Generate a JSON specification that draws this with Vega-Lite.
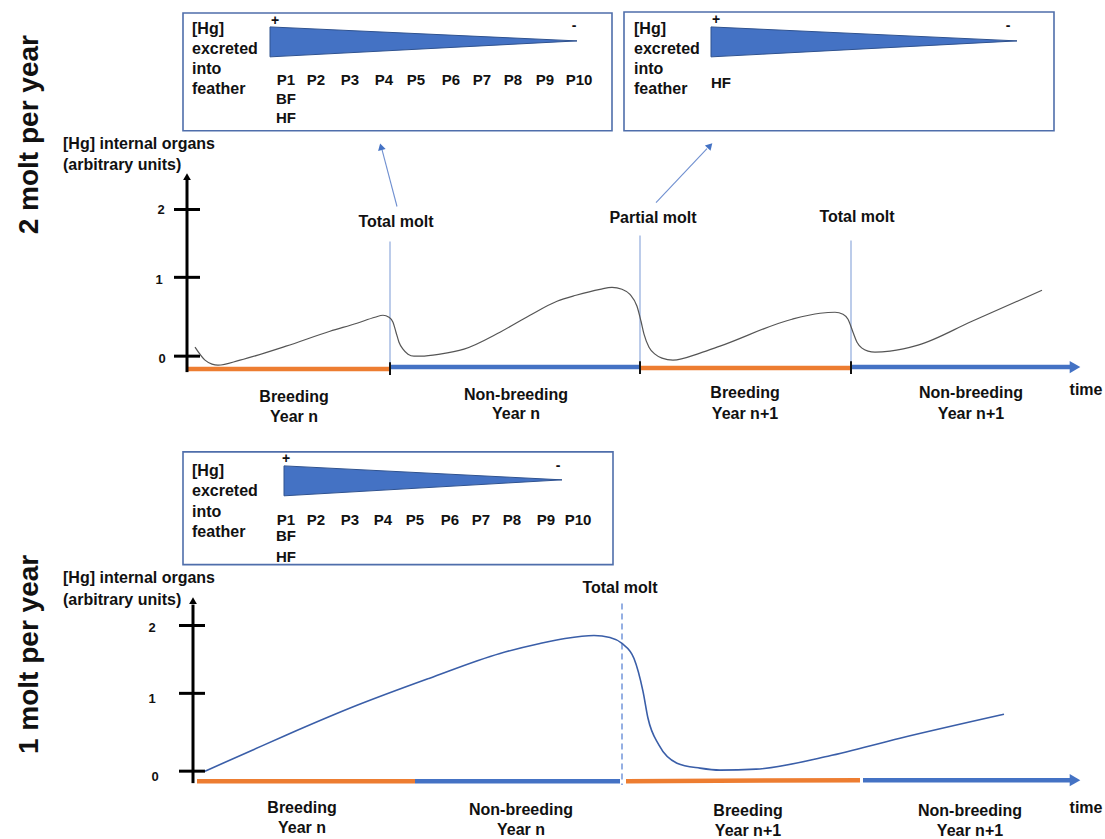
{
  "$schema": "https://vega.github.io/schema/vega-lite/v6.json",
  "width": 1105,
  "height": 839,
  "padding": 0,
  "autosize": {"type": "fit", "contains": "padding"},
  "background": "white",
  "config": {"view": {"stroke": null}, "text": {"font": "Liberation Sans", "fontWeight": "bold", "color": "#111111"}},
  "datasets": {
    "boxes": [
      {"x": 183, "x2": 612, "y": 13, "y2": 131},
      {"x": 624, "x2": 1054, "y": 12, "y2": 131},
      {"x": 183, "x2": 613, "y": 453, "y2": 566}
    ],
    "wedges": [
      {"id": 1, "x": 270, "y": 27, "y2": 57},
      {"id": 1, "x": 577, "y": 41, "y2": 41},
      {"id": 2, "x": 711, "y": 27, "y2": 57},
      {"id": 2, "x": 1017, "y": 41, "y2": 41},
      {"id": 3, "x": 284, "y": 467, "y2": 497},
      {"id": 3, "x": 562, "y": 481, "y2": 481}
    ],
    "curve1": [
      {"x": 195, "y": 348}, {"x": 205, "y": 361}, {"x": 212, "y": 365}, {"x": 218, "y": 366},
      {"x": 240, "y": 361}, {"x": 286, "y": 347}, {"x": 330, "y": 332}, {"x": 357, "y": 324},
      {"x": 375, "y": 318}, {"x": 383, "y": 316}, {"x": 389, "y": 318}, {"x": 393, "y": 323},
      {"x": 396, "y": 333}, {"x": 399, "y": 343}, {"x": 403, "y": 350}, {"x": 408, "y": 355},
      {"x": 414, "y": 357}, {"x": 421, "y": 357}, {"x": 440, "y": 355}, {"x": 464, "y": 350},
      {"x": 500, "y": 333}, {"x": 530, "y": 316}, {"x": 557, "y": 302}, {"x": 576, "y": 296},
      {"x": 600, "y": 290}, {"x": 612, "y": 288}, {"x": 622, "y": 290}, {"x": 630, "y": 295},
      {"x": 637, "y": 307}, {"x": 641, "y": 322}, {"x": 644, "y": 335}, {"x": 649, "y": 348},
      {"x": 655, "y": 355}, {"x": 662, "y": 359}, {"x": 673, "y": 361}, {"x": 700, "y": 354},
      {"x": 720, "y": 347}, {"x": 792, "y": 320}, {"x": 820, "y": 314}, {"x": 835, "y": 313},
      {"x": 843, "y": 315}, {"x": 848, "y": 320}, {"x": 853, "y": 333}, {"x": 857, "y": 343},
      {"x": 862, "y": 349}, {"x": 868, "y": 352}, {"x": 875, "y": 353}, {"x": 890, "y": 352},
      {"x": 918, "y": 346}, {"x": 972, "y": 322}, {"x": 1042, "y": 291}
    ],
    "curve2": [
      {"x": 205, "y": 773}, {"x": 250, "y": 753}, {"x": 286, "y": 737}, {"x": 357, "y": 707},
      {"x": 429, "y": 680}, {"x": 500, "y": 655}, {"x": 540, "y": 645}, {"x": 565, "y": 640},
      {"x": 594, "y": 637}, {"x": 610, "y": 639}, {"x": 622, "y": 645}, {"x": 634, "y": 660},
      {"x": 643, "y": 693}, {"x": 648, "y": 720}, {"x": 659, "y": 747}, {"x": 677, "y": 765},
      {"x": 700, "y": 770}, {"x": 720, "y": 772}, {"x": 756, "y": 771}, {"x": 828, "y": 758},
      {"x": 900, "y": 740}, {"x": 1004, "y": 716}
    ],
    "segs": [
      {"kind": "axis", "x": 187, "y": 373, "x2": 187, "y2": 180},
      {"kind": "tick", "x": 174, "y": 210, "x2": 200, "y2": 210},
      {"kind": "tick", "x": 174, "y": 278, "x2": 200, "y2": 278},
      {"kind": "tick", "x": 174, "y": 357, "x2": 200, "y2": 357},
      {"kind": "orange", "x": 187, "y": 370, "x2": 390, "y2": 370},
      {"kind": "orange", "x": 640, "y": 369, "x2": 851, "y2": 369},
      {"kind": "blue", "x": 390, "y": 368, "x2": 640, "y2": 368},
      {"kind": "blue", "x": 851, "y": 368, "x2": 1072, "y2": 368},
      {"kind": "sep", "x": 390, "y": 363, "x2": 390, "y2": 376},
      {"kind": "sep", "x": 640, "y": 362, "x2": 640, "y2": 375},
      {"kind": "sep", "x": 851, "y": 362, "x2": 851, "y2": 375},
      {"kind": "molt", "x": 390, "y": 242, "x2": 390, "y2": 366},
      {"kind": "molt", "x": 640, "y": 236, "x2": 640, "y2": 366},
      {"kind": "molt", "x": 851, "y": 241, "x2": 851, "y2": 366},
      {"kind": "arrow", "x": 397, "y": 207, "x2": 382, "y2": 150},
      {"kind": "arrow", "x": 656, "y": 203, "x2": 707, "y2": 149},
      {"kind": "axis", "x": 193, "y": 785, "x2": 193, "y2": 606},
      {"kind": "tick", "x": 179, "y": 627, "x2": 205, "y2": 627},
      {"kind": "tick", "x": 179, "y": 695, "x2": 205, "y2": 695},
      {"kind": "tick", "x": 179, "y": 773, "x2": 205, "y2": 773},
      {"kind": "orange", "x": 197, "y": 783, "x2": 415, "y2": 783},
      {"kind": "orange", "x": 626, "y": 783, "x2": 860, "y2": 782},
      {"kind": "blue", "x": 415, "y": 783, "x2": 620, "y2": 783},
      {"kind": "blue", "x": 863, "y": 782, "x2": 1072, "y2": 782},
      {"kind": "dash", "x": 622, "y": 605, "x2": 622, "y2": 787}
    ],
    "heads": [
      {"kind": "time", "x": 1075, "y": 368},
      {"kind": "time", "x": 1075, "y": 782},
      {"kind": "yaxis", "x": 187, "y": 177},
      {"kind": "yaxis", "x": 193, "y": 602},
      {"kind": "arrow1", "x": 381, "y": 147},
      {"kind": "arrow2", "x": 710, "y": 146}
    ],
    "texts": [
      {"kind": "side", "x": 30, "y": 135, "text": "2 molt per year"},
      {"kind": "side", "x": 30, "y": 656, "text": "1 molt per year"},
      {"kind": "boxlab", "x": 192, "y": 29, "text": "[Hg]"},
      {"kind": "boxlab", "x": 192, "y": 49, "text": "excreted"},
      {"kind": "boxlab", "x": 192, "y": 69, "text": "into"},
      {"kind": "boxlab", "x": 192, "y": 89, "text": "feather"},
      {"kind": "boxlab", "x": 634, "y": 29, "text": "[Hg]"},
      {"kind": "boxlab", "x": 634, "y": 49, "text": "excreted"},
      {"kind": "boxlab", "x": 634, "y": 69, "text": "into"},
      {"kind": "boxlab", "x": 634, "y": 89, "text": "feather"},
      {"kind": "boxlab", "x": 192, "y": 472, "text": "[Hg]"},
      {"kind": "boxlab", "x": 192, "y": 492, "text": "excreted"},
      {"kind": "boxlab", "x": 192, "y": 513, "text": "into"},
      {"kind": "boxlab", "x": 192, "y": 533, "text": "feather"},
      {"kind": "boxlab", "x": 63, "y": 144, "text": "[Hg] internal organs"},
      {"kind": "boxlab", "x": 63, "y": 165, "text": "(arbitrary units)"},
      {"kind": "boxlab", "x": 63, "y": 579, "text": "[Hg] internal organs"},
      {"kind": "boxlab", "x": 63, "y": 601, "text": "(arbitrary units)"},
      {"kind": "plab", "x": 286, "y": 80, "text": "P1"},
      {"kind": "plab", "x": 316, "y": 80, "text": "P2"},
      {"kind": "plab", "x": 350, "y": 80, "text": "P3"},
      {"kind": "plab", "x": 384, "y": 80, "text": "P4"},
      {"kind": "plab", "x": 416, "y": 80, "text": "P5"},
      {"kind": "plab", "x": 451, "y": 80, "text": "P6"},
      {"kind": "plab", "x": 482, "y": 80, "text": "P7"},
      {"kind": "plab", "x": 513, "y": 80, "text": "P8"},
      {"kind": "plab", "x": 545, "y": 80, "text": "P9"},
      {"kind": "plab", "x": 579, "y": 80, "text": "P10"},
      {"kind": "plab", "x": 286, "y": 99, "text": "BF"},
      {"kind": "plab", "x": 286, "y": 118, "text": "HF"},
      {"kind": "plab", "x": 721, "y": 83, "text": "HF"},
      {"kind": "plab", "x": 286, "y": 521, "text": "P1"},
      {"kind": "plab", "x": 316, "y": 521, "text": "P2"},
      {"kind": "plab", "x": 350, "y": 521, "text": "P3"},
      {"kind": "plab", "x": 383, "y": 521, "text": "P4"},
      {"kind": "plab", "x": 415, "y": 521, "text": "P5"},
      {"kind": "plab", "x": 450, "y": 521, "text": "P6"},
      {"kind": "plab", "x": 481, "y": 521, "text": "P7"},
      {"kind": "plab", "x": 512, "y": 521, "text": "P8"},
      {"kind": "plab", "x": 546, "y": 521, "text": "P9"},
      {"kind": "plab", "x": 578, "y": 521, "text": "P10"},
      {"kind": "plab", "x": 286, "y": 537, "text": "BF"},
      {"kind": "plab", "x": 286, "y": 558, "text": "HF"},
      {"kind": "sign", "x": 275, "y": 21, "text": "+"},
      {"kind": "sign", "x": 574, "y": 26, "text": "-"},
      {"kind": "sign", "x": 716, "y": 20, "text": "+"},
      {"kind": "sign", "x": 1008, "y": 26, "text": "-"},
      {"kind": "sign", "x": 286, "y": 460, "text": "+"},
      {"kind": "sign", "x": 558, "y": 467, "text": "-"},
      {"kind": "label", "x": 396, "y": 223, "text": "Total molt"},
      {"kind": "label", "x": 653, "y": 219, "text": "Partial molt"},
      {"kind": "label", "x": 857, "y": 218, "text": "Total molt"},
      {"kind": "label", "x": 620, "y": 589, "text": "Total molt"},
      {"kind": "label", "x": 294, "y": 398, "text": "Breeding"},
      {"kind": "label", "x": 294, "y": 418, "text": "Year n"},
      {"kind": "label", "x": 516, "y": 396, "text": "Non-breeding"},
      {"kind": "label", "x": 516, "y": 415, "text": "Year n"},
      {"kind": "label", "x": 745, "y": 394, "text": "Breeding"},
      {"kind": "label", "x": 745, "y": 415, "text": "Year n+1"},
      {"kind": "label", "x": 971, "y": 394, "text": "Non-breeding"},
      {"kind": "label", "x": 971, "y": 415, "text": "Year n+1"},
      {"kind": "label", "x": 1086, "y": 391, "text": "time"},
      {"kind": "label", "x": 302, "y": 810, "text": "Breeding"},
      {"kind": "label", "x": 302, "y": 830, "text": "Year n"},
      {"kind": "label", "x": 521, "y": 812, "text": "Non-breeding"},
      {"kind": "label", "x": 521, "y": 832, "text": "Year n"},
      {"kind": "label", "x": 748, "y": 813, "text": "Breeding"},
      {"kind": "label", "x": 748, "y": 833, "text": "Year n+1"},
      {"kind": "label", "x": 970, "y": 813, "text": "Non-breeding"},
      {"kind": "label", "x": 970, "y": 833, "text": "Year n+1"},
      {"kind": "label", "x": 1086, "y": 810, "text": "time"},
      {"kind": "ynum", "x": 161, "y": 211, "text": "2"},
      {"kind": "ynum", "x": 159, "y": 281, "text": "1"},
      {"kind": "ynum", "x": 162, "y": 360, "text": "0"},
      {"kind": "ynum", "x": 152, "y": 630, "text": "2"},
      {"kind": "ynum", "x": 152, "y": 701, "text": "1"},
      {"kind": "ynum", "x": 155, "y": 779, "text": "0"}
    ]
  },
  "encoding": {
    "x": {"field": "x", "type": "quantitative", "scale": {"domain": [0, 1105], "nice": false, "zero": false}, "axis": null},
    "y": {"field": "y", "type": "quantitative", "scale": {"domain": [0, 839], "nice": false, "zero": false, "reverse": true}, "axis": null}
  },
  "layer": [
    {
      "data": {"name": "boxes"},
      "mark": {"type": "rect", "filled": false, "stroke": "#4f6eab", "strokeWidth": 1.6},
      "encoding": {"x2": {"field": "x2"}, "y2": {"field": "y2"}}
    },
    {
      "data": {"name": "wedges"},
      "mark": {"type": "area", "color": "#4472c4", "stroke": "#2f528f", "strokeWidth": 1, "interpolate": "linear"},
      "encoding": {"y2": {"field": "y2"}, "detail": {"field": "id", "type": "nominal"}}
    },
    {
      "data": {"name": "segs"},
      "transform": [{"filter": "datum.kind == 'molt'"}],
      "mark": {"type": "rule", "color": "#8faadc", "strokeWidth": 1.2},
      "encoding": {"x2": {"field": "x2"}, "y2": {"field": "y2"}}
    },
    {
      "data": {"name": "segs"},
      "transform": [{"filter": "datum.kind == 'arrow'"}],
      "mark": {"type": "rule", "color": "#6f8fd0", "strokeWidth": 1.1},
      "encoding": {"x2": {"field": "x2"}, "y2": {"field": "y2"}}
    },
    {
      "data": {"name": "segs"},
      "transform": [{"filter": "datum.kind == 'dash'"}],
      "mark": {"type": "rule", "color": "#4f7bd0", "strokeWidth": 1.2, "strokeDash": [6, 4]},
      "encoding": {"x2": {"field": "x2"}, "y2": {"field": "y2"}}
    },
    {
      "data": {"name": "segs"},
      "transform": [{"filter": "datum.kind == 'orange'"}],
      "mark": {"type": "rule", "color": "#ed7d31", "strokeWidth": 4.5},
      "encoding": {"x2": {"field": "x2"}, "y2": {"field": "y2"}}
    },
    {
      "data": {"name": "segs"},
      "transform": [{"filter": "datum.kind == 'blue'"}],
      "mark": {"type": "rule", "color": "#4472c4", "strokeWidth": 4.5},
      "encoding": {"x2": {"field": "x2"}, "y2": {"field": "y2"}}
    },
    {
      "data": {"name": "segs"},
      "transform": [{"filter": "datum.kind == 'sep'"}],
      "mark": {"type": "rule", "color": "#111111", "strokeWidth": 2},
      "encoding": {"x2": {"field": "x2"}, "y2": {"field": "y2"}}
    },
    {
      "data": {"name": "segs"},
      "transform": [{"filter": "datum.kind == 'axis' || datum.kind == 'tick'"}],
      "mark": {"type": "rule", "color": "#000000", "strokeWidth": 3},
      "encoding": {"x2": {"field": "x2"}, "y2": {"field": "y2"}}
    },
    {
      "data": {"name": "curve1"},
      "mark": {"type": "line", "color": "#555555", "strokeWidth": 1.2, "interpolate": "monotone"},
      "encoding": {}
    },
    {
      "data": {"name": "curve2"},
      "mark": {"type": "line", "color": "#3a5ea8", "strokeWidth": 1.6, "interpolate": "monotone"},
      "encoding": {}
    },
    {
      "data": {"name": "heads"},
      "transform": [{"filter": "datum.kind == 'time'"}],
      "mark": {"type": "point", "shape": "triangle-right", "filled": true, "color": "#4472c4", "size": 150, "opacity": 1}
    },
    {
      "data": {"name": "heads"},
      "transform": [{"filter": "datum.kind == 'yaxis'"}],
      "mark": {"type": "point", "shape": "triangle-up", "filled": true, "color": "#000000", "size": 60, "opacity": 1}
    },
    {
      "data": {"name": "heads"},
      "transform": [{"filter": "datum.kind == 'arrow1'"}],
      "mark": {"type": "point", "shape": "triangle-up", "filled": true, "color": "#4472c4", "size": 60, "opacity": 1, "angle": 345}
    },
    {
      "data": {"name": "heads"},
      "transform": [{"filter": "datum.kind == 'arrow2'"}],
      "mark": {"type": "point", "shape": "triangle-up", "filled": true, "color": "#4472c4", "size": 60, "opacity": 1, "angle": 43}
    },
    {
      "data": {"name": "texts"},
      "transform": [{"filter": "datum.kind == 'side'"}],
      "mark": {"type": "text", "fontSize": 28, "angle": 270, "align": "center", "baseline": "middle"},
      "encoding": {"text": {"field": "text"}}
    },
    {
      "data": {"name": "texts"},
      "transform": [{"filter": "datum.kind == 'boxlab'"}],
      "mark": {"type": "text", "fontSize": 16, "align": "left", "baseline": "middle"},
      "encoding": {"text": {"field": "text"}}
    },
    {
      "data": {"name": "texts"},
      "transform": [{"filter": "datum.kind == 'plab'"}],
      "mark": {"type": "text", "fontSize": 15, "align": "center", "baseline": "middle"},
      "encoding": {"text": {"field": "text"}}
    },
    {
      "data": {"name": "texts"},
      "transform": [{"filter": "datum.kind == 'sign'"}],
      "mark": {"type": "text", "fontSize": 14, "align": "center", "baseline": "middle"},
      "encoding": {"text": {"field": "text"}}
    },
    {
      "data": {"name": "texts"},
      "transform": [{"filter": "datum.kind == 'label'"}],
      "mark": {"type": "text", "fontSize": 16, "align": "center", "baseline": "middle"},
      "encoding": {"text": {"field": "text"}}
    },
    {
      "data": {"name": "texts"},
      "transform": [{"filter": "datum.kind == 'ynum'"}],
      "mark": {"type": "text", "fontSize": 13, "align": "center", "baseline": "middle"},
      "encoding": {"text": {"field": "text"}}
    }
  ]
}
